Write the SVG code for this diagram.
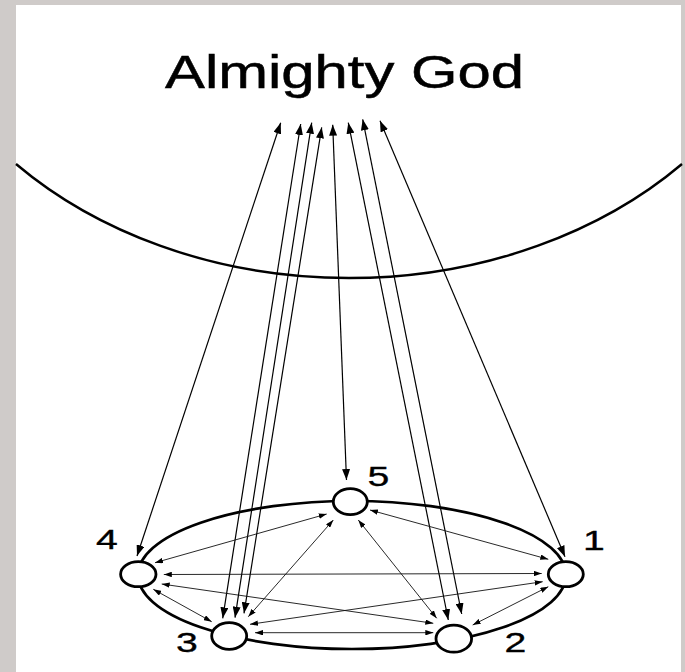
<svg xmlns="http://www.w3.org/2000/svg" width="685" height="672" viewBox="0 0 685 672">
<defs>
<style>
.bg{fill:#cfcbc9}
.paper{fill:#ffffff}
.arc{fill:none;stroke:#000;stroke-width:2.4}
.ring{fill:none;stroke:#000;stroke-width:2.7}
.node{fill:#fff;stroke:#000;stroke-width:2.8}
.long{stroke:#000;stroke-width:1.2;fill:none;marker-start:url(#big);marker-end:url(#big)}
.mesh{stroke:#111;stroke-width:0.9;fill:none;marker-start:url(#small);marker-end:url(#small)}
.lbl{font-family:"Liberation Sans",Arial,sans-serif;font-size:28px;fill:#000;stroke:#000;stroke-width:0.35}
.title{font-family:"Liberation Sans",Arial,sans-serif;font-size:46px;fill:#000;stroke:#000;stroke-width:0.5}
</style>
<marker id="big" viewBox="0 0 10 10" refX="10" refY="5" markerUnits="userSpaceOnUse" markerWidth="11" markerHeight="8" preserveAspectRatio="none" orient="auto-start-reverse"><path d="M0,0 L10,5 L0,10 z" fill="#000"/></marker>
<marker id="small" viewBox="0 0 10 10" refX="10" refY="5" markerUnits="userSpaceOnUse" markerWidth="8" markerHeight="5.5" preserveAspectRatio="none" orient="auto-start-reverse"><path d="M0,0 L10,5 L0,10 z" fill="#000"/></marker>
</defs>
<rect class="bg" x="0" y="0" width="685" height="672"/>
<rect class="paper" x="16" y="5" width="665" height="667"/>
<g id="god-label"><text class="title" x="165" y="88" textLength="359" lengthAdjust="spacingAndGlyphs">Almighty God</text></g>
<path id="god-arc" class="arc" d="M16,164 A455,358 0 0 0 682,164"/>
<ellipse id="ring" class="ring" cx="352" cy="575" rx="214" ry="74"/>
<g id="connectors">
<line class="long" x1="280.7" y1="122.7" x2="137" y2="556"/>
<line class="long" x1="300.7" y1="124" x2="222.7" y2="618.3"/>
<line class="long" x1="311.7" y1="122.7" x2="235" y2="617.7"/>
<line class="long" x1="321.7" y1="127.3" x2="244" y2="613.3"/>
<line class="long" x1="332.7" y1="124.7" x2="346.5" y2="480"/>
<line class="long" x1="348.3" y1="122.7" x2="448.3" y2="620"/>
<line class="long" x1="362.7" y1="119.3" x2="461.7" y2="614"/>
<line class="long" x1="380" y1="120.7" x2="565" y2="556.7"/>
<line class="mesh" x1="326.7" y1="514" x2="155" y2="562.7"/>
<line class="mesh" x1="333.3" y1="520" x2="248.3" y2="616.7"/>
<line class="mesh" x1="370" y1="510" x2="548.3" y2="559.3"/>
<line class="mesh" x1="358.3" y1="520" x2="436.7" y2="618.3"/>
<line class="mesh" x1="163.8" y1="574.5" x2="541.7" y2="573.5"/>
<line class="mesh" x1="161.7" y1="584" x2="433.3" y2="623.3"/>
<line class="mesh" x1="250" y1="624.3" x2="542.7" y2="581.7"/>
<line class="mesh" x1="255" y1="632.7" x2="433.3" y2="632.7"/>
<line class="mesh" x1="153.3" y1="589.3" x2="211.7" y2="621.7"/>
<line class="mesh" x1="472.7" y1="625" x2="548.3" y2="586.7"/>
</g>
<g id="node-5"><ellipse class="node" cx="350.3" cy="501.7" rx="17" ry="13"/><text class="lbl" text-anchor="middle" transform="translate(378.5,485.5) scale(1.4,1)">5</text></g>
<g id="node-1"><ellipse class="node" cx="565.8" cy="574.2" rx="17.5" ry="12.5"/><text class="lbl" text-anchor="middle" transform="translate(594,550) scale(1.4,1)">1</text></g>
<g id="node-2"><ellipse class="node" cx="453.8" cy="638.7" rx="17.8" ry="13.5"/><text class="lbl" text-anchor="middle" transform="translate(515.5,652) scale(1.4,1)">2</text></g>
<g id="node-3"><ellipse class="node" cx="229.2" cy="636" rx="17.5" ry="13.3"/><text class="lbl" text-anchor="middle" transform="translate(187,652) scale(1.4,1)">3</text></g>
<g id="node-4"><ellipse class="node" cx="138.3" cy="574.2" rx="17.7" ry="12.5"/><text class="lbl" text-anchor="middle" transform="translate(107,549) scale(1.4,1)">4</text></g>
</svg>
